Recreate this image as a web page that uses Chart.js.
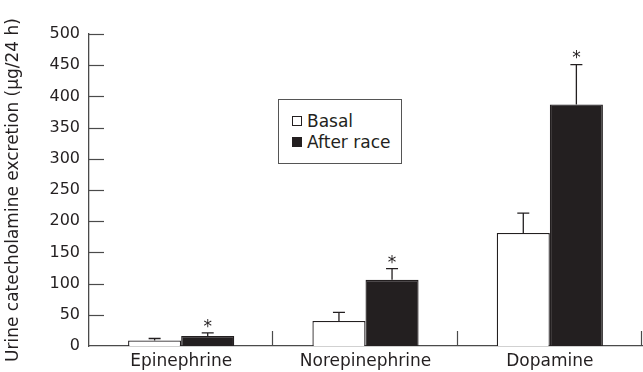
<!DOCTYPE html>
<html>
<head>
<meta charset="utf-8">
<script src="https://cdn.jsdelivr.net/npm/chart.js@4.4.0/dist/chart.umd.min.js"></script>
<style>
  body { margin: 0; background: #fff; }
  #wrap { position: relative; width: 643px; height: 372px; }
  #legend {
    position: absolute; left: 278px; top: 99px; width: 122px; height: 63px;
    border: 1px solid #555; background: #fff;
    font: 17px "DejaVu Sans", sans-serif; color: #231f20;
  }
  #legend div { position: absolute; left: 13px; white-space: nowrap; }
  #legend span { display: inline-block; width: 8px; height: 8px; border: 1px solid #231f20; margin-right: 5px; vertical-align: 1px; }
</style>
</head>
<body>
<div id="wrap">
  <canvas id="chart" width="643" height="372"></canvas>
  <div id="legend">
    <div style="top:11px"><span style="background:#fff"></span>Basal</div>
    <div style="top:32px"><span style="background:#231f20"></span>After race</div>
  </div>
</div>
<script>
const categories = ["Epinephrine", "Norepinephrine", "Dopamine"];
const basal = [9, 40, 181];
const basalErr = [3, 14, 32];
const afterRace = [16, 106, 387];
const afterRaceErr = [5, 18, 64];
const afterRaceSig = [true, true, true];
const yTicks = [0, 50, 100, 150, 200, 250, 300, 350, 400, 450, 500];

const ink = "#231f20";
const axisColor = "#4a4a4a";
const font = "DejaVu Sans";

// inward ticks, error bars and stars
const extras = {
  id: "extras",
  afterDatasetsDraw(chart) {
    const c = chart.ctx, x = chart.scales.x, y = chart.scales.y, area = chart.chartArea;
    c.save();
    c.strokeStyle = axisColor;
    c.lineWidth = 1.2;
    y.ticks.forEach((t, i) => {
      if (t.value === 0) return;
      const py = Math.round(y.getPixelForTick(i)) + 0.5;
      c.beginPath(); c.moveTo(area.left, py); c.lineTo(area.left + 15, py); c.stroke();
    });
    for (let i = 0; i < categories.length; i++) {
      const px = Math.round(x.getPixelForValue(i + 0.5)) - 0.5;
      c.beginPath(); c.moveTo(px, area.bottom); c.lineTo(px, area.bottom - 15); c.stroke();
    }
    // error bars
    c.strokeStyle = ink;
    c.lineWidth = 1.3;
    const errs = [basalErr, afterRaceErr];
    const vals = [basal, afterRace];
    [0, 1].forEach(d => {
      chart.getDatasetMeta(d).data.forEach((bar, i) => {
        const top = y.getPixelForValue(vals[d][i]);
        const end = y.getPixelForValue(vals[d][i] + errs[d][i]);
        c.beginPath();
        c.moveTo(bar.x, top); c.lineTo(bar.x, end);
        c.moveTo(bar.x - 6, end); c.lineTo(bar.x + 6, end);
        c.stroke();
        if (d === 1 && afterRaceSig[i]) {
          c.fillStyle = ink;
          c.font = "17px " + font;
          c.textAlign = "center";
          c.textBaseline = "bottom";
          c.fillText("*", bar.x, end + 3);
        }
      });
    });
    c.restore();
  }
};

new Chart(document.getElementById("chart"), {
  type: "bar",
  data: {
    labels: categories,
    datasets: [
      { label: "Basal", data: basal, backgroundColor: "#fff", borderColor: ink, borderWidth: 1.3,
        categoryPercentage: 0.576, barPercentage: 1 },
      { label: "After race", data: afterRace, backgroundColor: ink, borderColor: ink, borderWidth: 1.3,
        categoryPercentage: 0.576, barPercentage: 1 }
    ]
  },
  options: {
    responsive: false,
    animation: false,
    layout: { padding: { top: 34, right: 1, left: 0, bottom: 0 } },
    plugins: { legend: { display: false }, tooltip: { enabled: false } },
    scales: {
      x: {
        grid: { display: false, drawTicks: false },
        border: { color: axisColor, width: 1.3 },
        ticks: { color: ink, font: { family: font, size: 17 }, padding: 5, maxRotation: 0 },
        afterFit: s => { s.height = 26; }
      },
      y: {
        min: 0, max: 500,
        afterBuildTicks: s => { s.ticks = yTicks.map(v => ({ value: v })); },
        grid: { display: false, drawTicks: false },
        border: { color: axisColor, width: 1.3 },
        ticks: { color: ink, font: { family: font, size: 16 }, padding: 9 },
        title: { display: true, text: "Urine catecholamine excretion (µg/24 h)", color: ink,
                 font: { family: font, size: 17 }, padding: { top: 3, bottom: 0 } },
        afterFit: s => { s.width = 89; }
      }
    }
  },
  plugins: [extras]
});
</script>
</body>
</html>
